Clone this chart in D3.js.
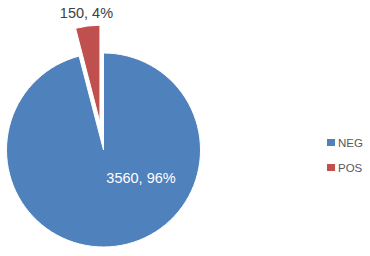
<!DOCTYPE html>
<html>
<head>
<meta charset="utf-8">
<script src="https://cdn.jsdelivr.net/npm/d3@7"></script>
<style>
  body { margin: 0; background: #fff; }
  svg { display: block; }
</style>
</head>
<body>
<div class="chart"></div>
<script>
// chart data
const categories = ["NEG", "POS"];
const counts = [3560, 150];
const colors = ["#4F81BD", "#C0504D"];

const w = 370;
const h = 256;
const cx = 103.5;
const cy = 150;
const r = 97;
const explode = 28; // how far POS is pulled out

const total = d3.sum(counts);
const rows = categories.map((c, i) => ({name: c, value: counts[i], color: colors[i]}));

const svg = d3.select(".chart").append("svg")
  .attr("width", w)
  .attr("height", h)
  .style("font-family", "'Liberation Sans', Arial, sans-serif");

const pie = d3.pie().sort(null).value(d => d.value);
const arc = d3.arc().innerRadius(0).outerRadius(r);
const arcs = pie(rows);

// offset for exploded slice
function shift(d) {
  if (d.data.name !== "POS") return [0, 0];
  const mid = (d.startAngle + d.endAngle) / 2;
  return d3.pointRadial(mid, explode);
}

const g = svg.append("g").attr("transform", `translate(${cx},${cy})`);

g.selectAll("path")
  .data(arcs)
  .enter()
  .append("path")
  .attr("d", arc)
  .attr("transform", d => `translate(${shift(d)})`)
  .attr("fill", d => d.data.color)
  .attr("stroke", "#fff")
  .attr("stroke-width", 1);

// data labels
const pct = d => Math.round(d.value / total * 100) + "%";
g.selectAll("text.lbl")
  .data(arcs)
  .enter()
  .append("text")
  .attr("class", "lbl")
  .attr("text-anchor", "middle")
  .style("font-size", "14.5px")
  .attr("fill", d => d.data.name === "NEG" ? "#fff" : "#404040")
  .attr("transform", d => {
    const s = shift(d);
    if (d.data.name === "NEG") {
      return `translate(${s[0] + 37.5},${s[1] + 33})`;
    }
    return `translate(${s[0] - 13.5},${s[1] - 104})`;
  })
  .text(d => `${d.value}, ${pct(d.data)}`);

// legend
const legend = svg.append("g").attr("transform", "translate(327,139)");
const item = legend.selectAll("g")
  .data(rows)
  .enter()
  .append("g")
  .attr("transform", (d, i) => `translate(0,${i * 25})`);

item.append("rect")
  .attr("width", 8)
  .attr("height", 7)
  .attr("fill", d => d.color);

item.append("text")
  .attr("x", 11)
  .attr("y", 7.5)
  .style("font-size", "11.5px")
  .attr("fill", "#595959")
  .text(d => d.name);
</script>
</body>
</html>
